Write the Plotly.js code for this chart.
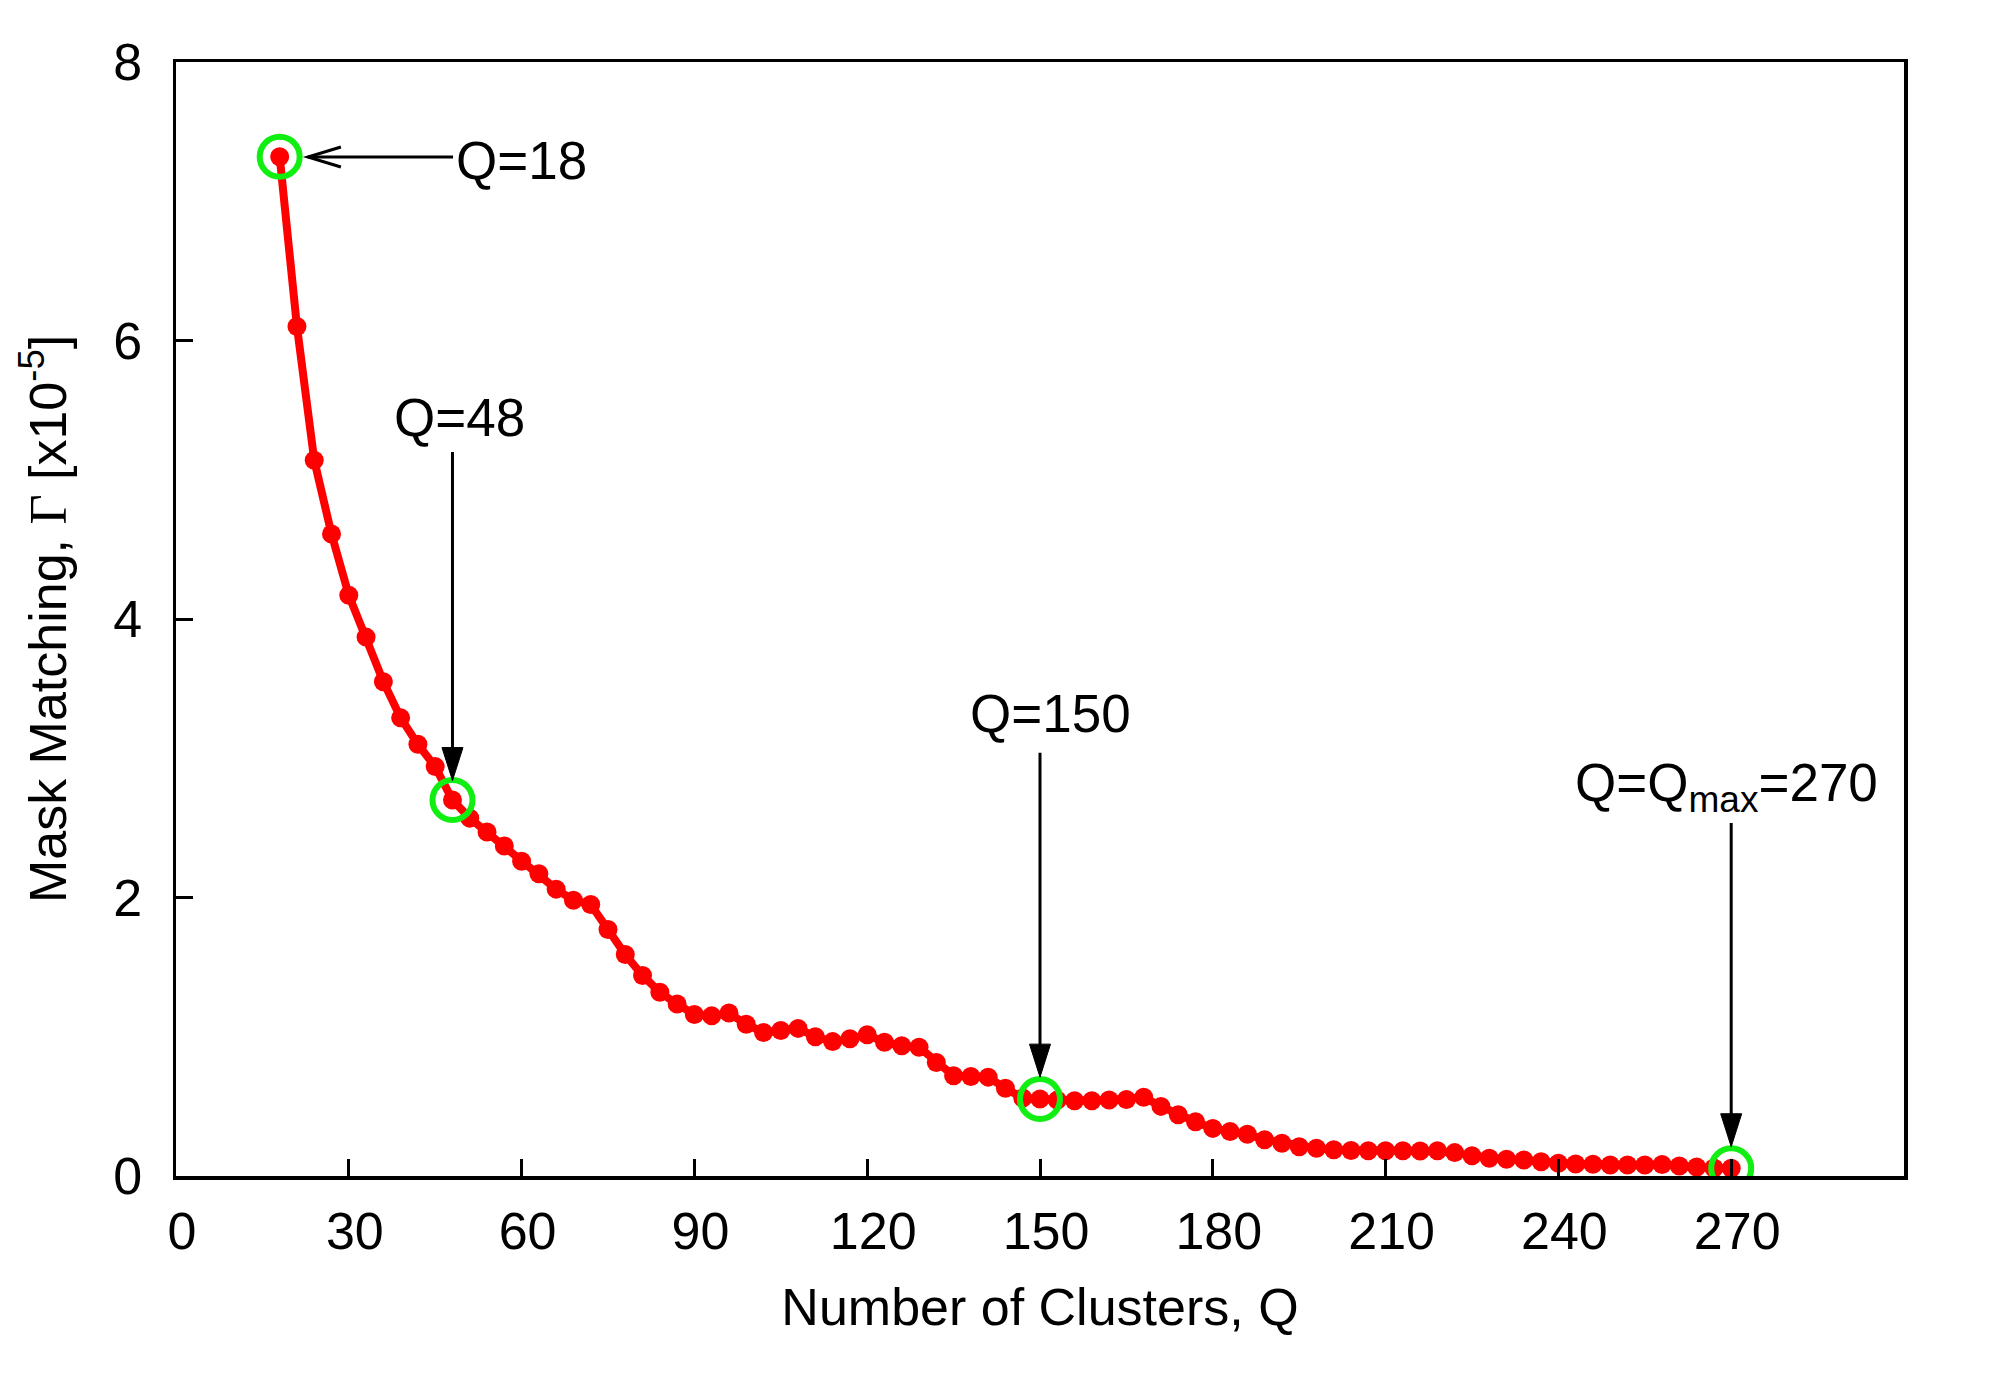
<!DOCTYPE html>
<html><head><meta charset="utf-8">
<script src="https://cdn.plot.ly/plotly-3.0.1.min.js"></script>
<style>body{margin:0;background:#fff}</style>
</head><body>
<div id="chart" style="width:2000px;height:1400px"></div>
<script>
// Number of clusters Q
const clusters = [18,21,24,27,30,33,36,39,42,45,48,51,54,57,60,63,66,69,72,75,78,81,84,87,90,93,96,99,
  102,105,108,111,114,117,120,123,126,129,132,135,138,141,144,147,150,153,156,159,162,165,168,171,174,177,
  180,183,186,189,192,195,198,201,204,207,210,213,216,219,222,225,228,231,234,237,240,243,246,249,252,255,
  258,261,264,267,270];
// Mask matching Gamma [x10^-5]
const matching = [7.32,6.10,5.14,4.61,4.17,3.87,3.55,3.29,3.10,2.94,2.70,2.57,2.47,2.37,2.26,2.17,2.06,1.98,1.95,1.77,
  1.59,1.44,1.32,1.235,1.16,1.15,1.17,1.09,1.03,1.045,1.06,1.00,0.965,0.985,1.015,0.96,0.935,0.925,0.815,0.72,
  0.715,0.71,0.63,0.56,0.553,0.545,0.54,0.541,0.546,0.55,0.565,0.50,0.44,0.39,0.342,0.32,0.30,0.26,0.235,0.21,
  0.199,0.188,0.183,0.182,0.182,0.182,0.18,0.181,0.168,0.145,0.128,0.12,0.115,0.103,0.092,0.086,0.084,0.079,0.079,0.079,
  0.083,0.072,0.064,0.057,0.055];
// highlighted cluster counts
const markedQ = [18,48,150,270];
const markedGamma = [7.32,2.70,0.553,0.055];
// tick labels
const xTickVals = [0,30,60,90,120,150,180,210,240,270];
const yTickVals = [0,2,4,6,8];
// annotation labels
const labelTexts = ['Q=18','Q=48','Q=150','Q=Q<sub>max</sub>=270'];

const FONT = 'Liberation Sans, Arial, Helvetica, sans-serif';
const RED = '#ff0000', GREEN = '#11ee11';

// label placement (data coordinates)
const labelPos = [
  {x:48.3, y:7.29, xanchor:'left'},
  {x:49.3, y:5.45, xanchor:'center'},
  {x:151.9, y:3.32, xanchor:'center'},
  {x:269.1, y:2.80, xanchor:'center'}
];
// vertical arrows: shaft top and tip
const vArrows = [
  {q:48, top:5.20, tip:2.84},
  {q:150, top:3.04, tip:0.71},
  {q:270, top:2.535, tip:0.21}
];
const hArrow = {y:7.318, tail:48.1, tip:22.9};

const traces = [
  {x:clusters, y:matching, mode:'lines+markers', type:'scatter',
   line:{color:RED, width:8}, marker:{color:RED, size:19}, showlegend:false, hoverinfo:'x+y'},
  {x:markedQ, y:markedGamma, mode:'markers', type:'scatter',
   marker:{symbol:'circle-open', size:40, color:GREEN, line:{color:GREEN, width:6}}, showlegend:false}
];

const shapes = [];
vArrows.forEach(a => {
  shapes.push({type:'line', xref:'x', yref:'y', x0:a.q, x1:a.q, y0:a.top, y1:a.tip+0.15,
    line:{color:'#000', width:3}});
  shapes.push({type:'path', xref:'x', yref:'y', xsizemode:'pixel', ysizemode:'pixel',
    xanchor:a.q, yanchor:a.tip, path:'M-10.5,33 L10.5,33 L0,0 Z',
    fillcolor:'#000', line:{color:'#000', width:1}});
});
shapes.push({type:'line', xref:'x', yref:'y', x0:hArrow.tail, x1:hArrow.tip, y0:hArrow.y, y1:hArrow.y,
  line:{color:'#000', width:3}});
shapes.push({type:'path', xref:'x', yref:'y', xsizemode:'pixel', ysizemode:'pixel',
  xanchor:hArrow.tip, yanchor:hArrow.y, path:'M33,10 L0,0 L33,-10',
  line:{color:'#000', width:3}});

const annotations = labelTexts.map((t,i) => ({
  text:t, x:labelPos[i].x, y:labelPos[i].y, xref:'x', yref:'y',
  xanchor:labelPos[i].xanchor, yanchor:'middle', showarrow:false,
  font:{family:FONT, size:53, color:'#000'}
}));

const axisCommon = {
  showline:true, linecolor:'#000', linewidth:3.5, mirror:true,
  ticks:'inside', ticklen:17, tickwidth:3, tickcolor:'#000',
  showgrid:false, zeroline:false,
  tickfont:{family:FONT, size:52, color:'#000'}
};

const layout = {
  width:2000, height:1400,
  margin:{l:176, r:96, t:62, b:224, autoexpand:false},
  paper_bgcolor:'#fff', plot_bgcolor:'#fff',
  font:{family:FONT, color:'#000'},
  xaxis:Object.assign({}, axisCommon, {
    range:[0,300], tickmode:'array', tickvals:xTickVals,
    ticklabelstandoff:7, ticklabelshift:6,
    title:{text:'Number of Clusters, Q', font:{family:FONT, size:52, color:'#000'}, standoff:30}
  }),
  yaxis:Object.assign({}, axisCommon, {
    range:[0,8], tickmode:'array', tickvals:yTickVals,
    ticklabelstandoff:20,
    title:{text:'Mask Matching, <span style="font-family:Liberation Serif">Γ</span> [x10<sup>-5</sup>]',
      font:{family:FONT, size:52, color:'#000'}, standoff:31}
  }),
  shapes:shapes,
  annotations:annotations
};

Plotly.newPlot('chart', traces, layout, {staticPlot:true});
</script>
</body></html>
